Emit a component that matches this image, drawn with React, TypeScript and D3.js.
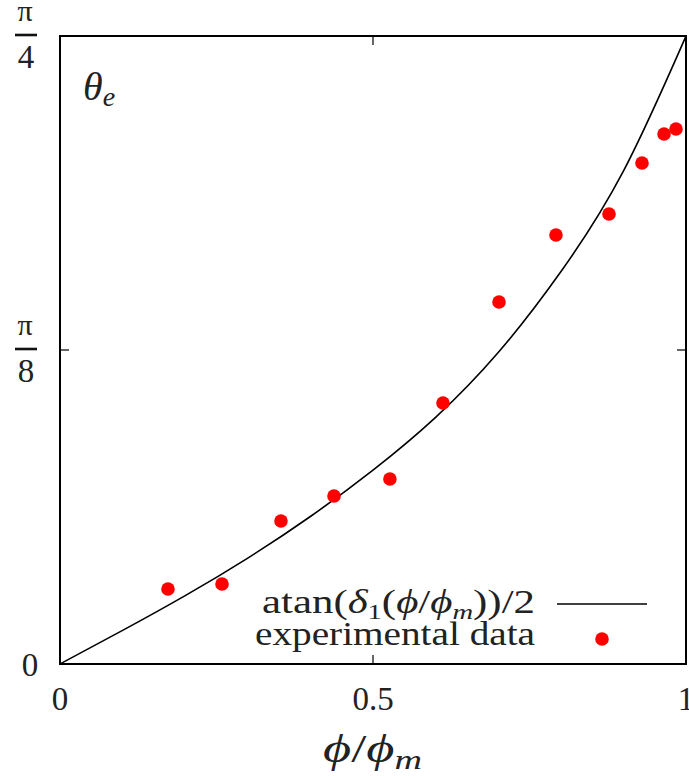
import React from "react";
import * as d3 from "d3";

// Theory curve atan(δ1(φ/φm))/2 (x, θ in radians)
const curveX = [0, 0.1, 0.2, 0.3, 0.4, 0.5, 0.6, 0.7, 0.8, 0.9, 1];
const curveY = [0, 0.042, 0.0855, 0.1325, 0.1845, 0.2425, 0.3085, 0.3895, 0.4905, 0.6165, 0.7854];

// Experimental data
const dataX = [0.1725, 0.2588, 0.353, 0.4377, 0.527, 0.6118, 0.7013, 0.7923, 0.877, 0.9297, 0.9649, 0.984];
const dataY = [0.0938, 0.1001, 0.1788, 0.2101, 0.2314, 0.3264, 0.4527, 0.5365, 0.5628, 0.6266, 0.6628, 0.6691];

const xTicks = [0, 0.5, 1];
const xTickLabels = ["0", "0.5", "1"];
const yTicks = [0, Math.PI / 8, Math.PI / 4];
const yTickDenoms = ["", "8", "4"];

const W = 689;
const H = 776;
const L = 60, R = 686, T = 36, B = 664;
const FONT = "'Liberation Serif', 'DejaVu Serif', serif";
const TXT = "#222";

export default function App() {
  const x = d3.scaleLinear().domain([0, 1]).range([L, R]);
  const y = d3.scaleLinear().domain([0, Math.PI / 4]).range([B, T]);
  const line = d3
    .line<number>()
    .x((_, i) => x(curveX[i]))
    .y((_, i) => y(curveY[i]))
    .curve(d3.curveNatural);
  const path = line(curveX) || "";

  return (
    <svg
      width={W}
      height={H}
      style={{ position: "absolute", left: 0, top: 0, background: "#fff" }}
      fontFamily={FONT}
    >
      <rect x={0} y={0} width={W} height={H} fill="#fff" />
      {/* ticks */}
      {xTicks.map((t, i) => (
        <g key={"xt" + i}>
          {i === 1 && (
            <>
              <line x1={x(t)} x2={x(t)} y1={B} y2={B - 9} stroke="#000" strokeWidth={1.2} />
              <line x1={x(t)} x2={x(t)} y1={T} y2={T + 9} stroke="#000" strokeWidth={1.2} />
            </>
          )}
          <text x={x(t)} y={710} textAnchor="middle" fontSize={33} fill={TXT}>
            {xTickLabels[i]}
          </text>
        </g>
      ))}
      {yTicks.map((t, i) => (
        <g key={"yt" + i}>
          {i === 1 && (
            <>
              <line x1={L} x2={L + 9} y1={y(t)} y2={y(t)} stroke="#000" strokeWidth={1.2} />
              <line x1={R} x2={R - 9} y1={y(t)} y2={y(t)} stroke="#000" strokeWidth={1.2} />
            </>
          )}
          {i === 0 ? (
            <text x={30} y={y(t) + 12} textAnchor="middle" fontSize={33} fill={TXT}>
              0
            </text>
          ) : (
            <g>
              <text x={25} y={y(t) - 15} textAnchor="middle" fontSize={30} fill={TXT}>
                π
              </text>
              <line x1={15} x2={37} y1={y(t) - 1} y2={y(t) - 1} stroke="#111" strokeWidth={2.6} />
              <text x={26} y={y(t) + 32} textAnchor="middle" fontSize={33} fill={TXT}>
                {yTickDenoms[i]}
              </text>
            </g>
          )}
        </g>
      ))}

      {/* curve */}
      <path d={path} fill="none" stroke="#000" strokeWidth={1.6} />

      {/* data */}
      {dataX.map((v, i) => (
        <circle key={"d" + i} cx={x(v)} cy={y(dataY[i])} r={6.8} fill="#ff0000" />
      ))}

      {/* frame */}
      <rect x={L} y={T} width={R - L} height={B - T} fill="none" stroke="#000" strokeWidth={2} />

      {/* theta_e label */}
      <text x={83} y={100} fontSize={40} fontStyle="italic" fill={TXT}>
        θ
        <tspan fontSize={28} dy={6}>e</tspan>
      </text>

      {/* legend */}
      <text
        x={262}
        y={613}
        fontSize={33}
        fill={TXT}
        textLength={273}
        lengthAdjust="spacingAndGlyphs"
      >
        atan(<tspan fontStyle="italic">δ</tspan>
        <tspan fontSize={22} dy={6}>1</tspan>
        <tspan dy={-6}>(</tspan>
        <tspan fontStyle="italic">ϕ</tspan>/<tspan fontStyle="italic">ϕ</tspan>
        <tspan fontSize={22} fontStyle="italic" dy={6}>m</tspan>
        <tspan dy={-6}>))/2</tspan>
      </text>
      <line x1={557} x2={647} y1={604} y2={604} stroke="#000" strokeWidth={1.6} />
      <text
        x={255}
        y={645}
        fontSize={33}
        fill={TXT}
        textLength={280}
        lengthAdjust="spacingAndGlyphs"
      >
        experimental data
      </text>
      <circle cx={602} cy={639} r={6.8} fill="#ff0000" />

      {/* x axis label */}
      <text
        x={323}
        y={762}
        fontSize={40}
        fill={TXT}
        textLength={99}
        lengthAdjust="spacingAndGlyphs"
      >
        <tspan fontStyle="italic">ϕ</tspan>/<tspan fontStyle="italic">ϕ</tspan>
        <tspan fontSize={28} fontStyle="italic" dy={7}>m</tspan>
      </text>
    </svg>
  );
}
